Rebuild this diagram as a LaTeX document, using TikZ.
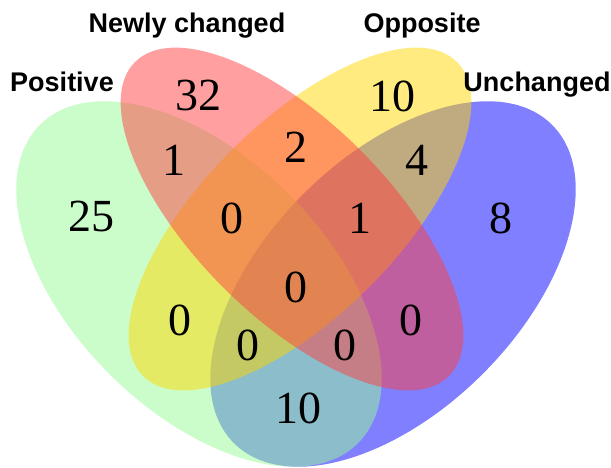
\documentclass[tikz,border=0pt]{standalone}
\usepackage{fontspec}
\setmainfont{Liberation Serif}
\newfontfamily\labelfont{Liberation Sans}
\definecolor{vblue}{RGB}{0,0,255}
\definecolor{vgreen}{RGB}{152,251,152}
\definecolor{vyellow}{RGB}{255,215,0}
\definecolor{vred}{RGB}{255,64,64}
\tikzset{
  setfill/.style={fill=#1, fill opacity=0.5, draw=none},
  count/.style={font=\fontsize{46}{46}\selectfont, inner sep=0pt, text opacity=1},
  setlabel/.style={font=\labelfont\bfseries\fontsize{27}{27}\selectfont, anchor=base, inner sep=0pt}
}
\begin{document}
\begin{tikzpicture}[x=1pt,y=1pt]
\useasboundingbox (0,0) rectangle (611,468);
% ellipses: blue, green, yellow, red (drawing order)
\fill[setfill=vblue, rotate around={45:(393,184)}] (393,184) ellipse [x radius=225pt, y radius=127pt];
\fill[setfill=vgreen, rotate around={-45:(199,184)}] (199,184) ellipse [x radius=225pt, y radius=127pt];
\fill[setfill=vyellow, rotate around={45:(300,249)}] (300,249) ellipse [x radius=222pt, y radius=97pt];
\fill[setfill=vred, rotate around={-45:(292,249)}] (292,249) ellipse [x radius=222pt, y radius=97pt];
% set labels
\node[setlabel] (lnew) at (187,435) {Newly changed};
\node[setlabel] (lopp) at (422,435) {Opposite};
\node[setlabel] (lpos) at (62,376) {Positive};
\node[setlabel] (lunc) at (537,376) {Unchanged};
% counts
\node[count] (n32) at (198,372) {32};
\node[count] (n10a) at (392,372) {10};
\node[count] (n1a) at (174,308) {1};
\node[count] (n2) at (296,321) {2};
\node[count] (n4) at (417,308) {4};
\node[count] (n25) at (91,251) {25};
\node[count] (n0a) at (232,250) {0};
\node[count] (n1b) at (360,250) {1};
\node[count] (n8) at (501,250) {8};
\node[count] (n0b) at (296,181) {0};
\node[count] (n0c) at (180,148) {0};
\node[count] (n0d) at (411,148) {0};
\node[count] (n0e) at (248,123) {0};
\node[count] (n0f) at (345,123) {0};
\node[count] (n10b) at (298,60) {10};
\end{tikzpicture}
\end{document}
